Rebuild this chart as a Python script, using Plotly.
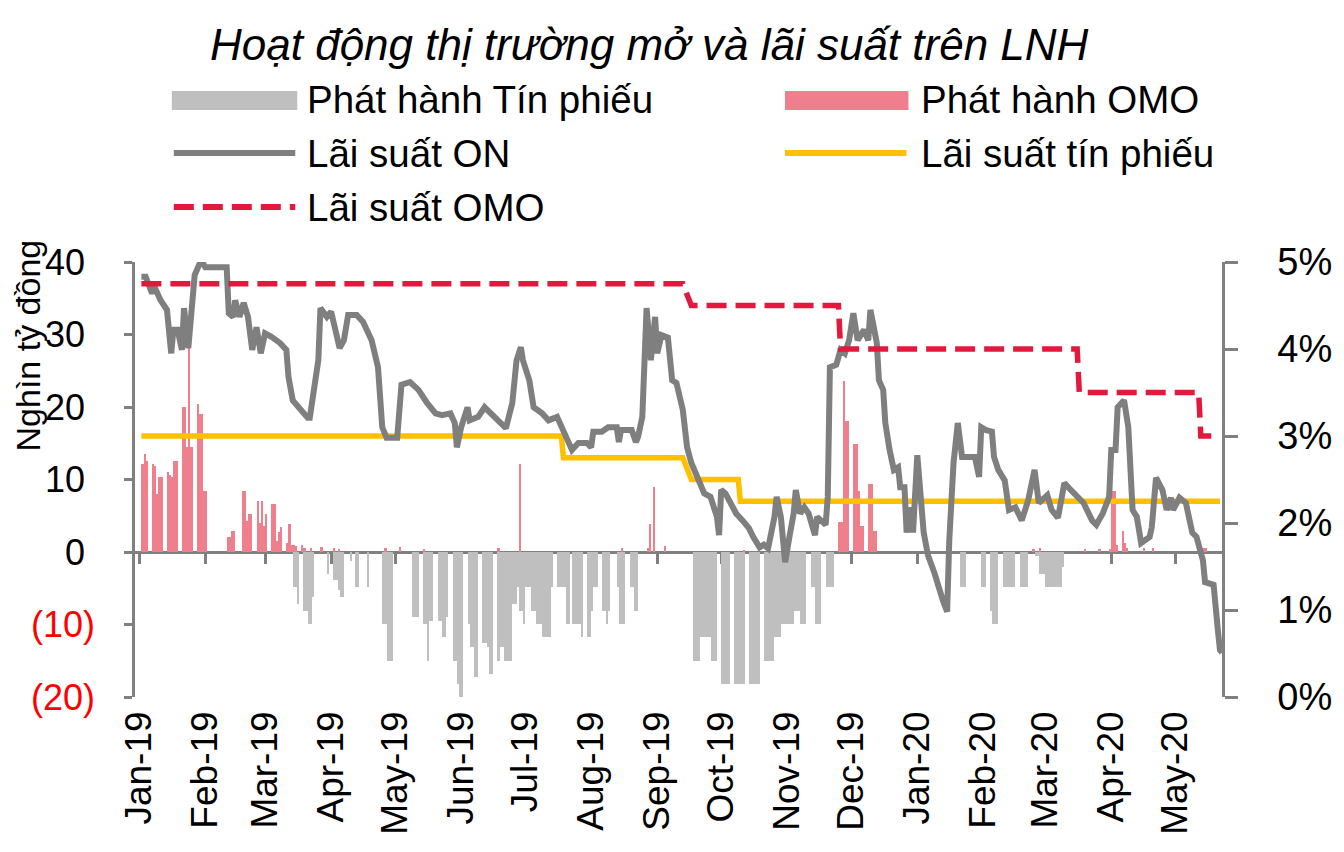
import plotly.graph_objects as go
import pandas as pd

# ---------------- DATA ----------------
MONTH_TICKS = ["2019-01-01", "2019-02-01", "2019-03-01", "2019-04-01", "2019-05-01", "2019-06-01",
               "2019-07-01", "2019-08-01", "2019-09-01", "2019-10-01", "2019-11-01", "2019-12-01",
               "2020-01-01", "2020-02-01", "2020-03-01", "2020-04-01", "2020-05-01"]
MONTH_LABELS = ["Jan-19", "Feb-19", "Mar-19", "Apr-19", "May-19", "Jun-19", "Jul-19", "Aug-19",
                "Sep-19", "Oct-19", "Nov-19", "Dec-19", "Jan-20", "Feb-20", "Mar-20", "Apr-20", "May-20"]

LEFT_TICKS = [-20, -10, 0, 10, 20, 30, 40]
LEFT_LABELS = ["(20)", "(10)", "0", "10", "20", "30", "40"]
RIGHT_TICKS = [0, 1, 2, 3, 4, 5]
RIGHT_LABELS = ["0%", "1%", "2%", "3%", "4%", "5%"]

# Overnight interbank rate (%)
ON_DATES = [
    "2019-01-02", "2019-01-04", "2019-01-07", "2019-01-08", "2019-01-11", "2019-01-14", "2019-01-16",
    "2019-01-17", "2019-01-19", "2019-01-21", "2019-01-22", "2019-01-24", "2019-01-27", "2019-01-30",
    "2019-02-01", "2019-02-11", "2019-02-12", "2019-02-14", "2019-02-15", "2019-02-17", "2019-02-19",
    "2019-02-21", "2019-02-23", "2019-02-25", "2019-02-27", "2019-03-01", "2019-03-04", "2019-03-08",
    "2019-03-11", "2019-03-12", "2019-03-14", "2019-03-18", "2019-03-21", "2019-03-22", "2019-03-26",
    "2019-03-27", "2019-03-30", "2019-04-01", "2019-04-05", "2019-04-07", "2019-04-09", "2019-04-13",
    "2019-04-16", "2019-04-20", "2019-04-23", "2019-04-25", "2019-04-27", "2019-05-02", "2019-05-03",
    "2019-05-04", "2019-05-08", "2019-05-12", "2019-05-16", "2019-05-20", "2019-05-23", "2019-05-27",
    "2019-05-29", "2019-05-30", "2019-06-01", "2019-06-04", "2019-06-05", "2019-06-09", "2019-06-12",
    "2019-06-15", "2019-06-19", "2019-06-22", "2019-06-25", "2019-06-27", "2019-06-29", "2019-06-30",
    "2019-07-03", "2019-07-05", "2019-07-09", "2019-07-12", "2019-07-16", "2019-07-18", "2019-07-21",
    "2019-07-23", "2019-07-26", "2019-07-30", "2019-08-01", "2019-08-02", "2019-08-06", "2019-08-09",
    "2019-08-13", "2019-08-14", "2019-08-15", "2019-08-20", "2019-08-22", "2019-08-23", "2019-08-25",
    "2019-08-26", "2019-08-27", "2019-08-29", "2019-08-31", "2019-09-01", "2019-09-03", "2019-09-06",
    "2019-09-08", "2019-09-10", "2019-09-13", "2019-09-15", "2019-09-17", "2019-09-21", "2019-09-23",
    "2019-09-26", "2019-09-29", "2019-09-30", "2019-10-01", "2019-10-03", "2019-10-06", "2019-10-08",
    "2019-10-11", "2019-10-14", "2019-10-16", "2019-10-19", "2019-10-21", "2019-10-23", "2019-10-26",
    "2019-10-27", "2019-10-29", "2019-10-31", "2019-11-02", "2019-11-04", "2019-11-05", "2019-11-07",
    "2019-11-09", "2019-11-11", "2019-11-14", "2019-11-15", "2019-11-19", "2019-11-20", "2019-11-21",
    "2019-11-24", "2019-11-26", "2019-11-28", "2019-11-30", "2019-12-02", "2019-12-04", "2019-12-07",
    "2019-12-09", "2019-12-10", "2019-12-13", "2019-12-14", "2019-12-16", "2019-12-17", "2019-12-19",
    "2019-12-21", "2019-12-23", "2019-12-24", "2019-12-26", "2019-12-27", "2019-12-29", "2019-12-30",
    "2020-01-01", "2020-01-03", "2020-01-04", "2020-01-06", "2020-01-08", "2020-01-09", "2020-01-13",
    "2020-01-15", "2020-01-16", "2020-01-17", "2020-01-18", "2020-01-20", "2020-01-22", "2020-01-28",
    "2020-01-30", "2020-01-31", "2020-02-02", "2020-02-05", "2020-02-06", "2020-02-08", "2020-02-11",
    "2020-02-13", "2020-02-16", "2020-02-19", "2020-02-22", "2020-02-25", "2020-02-27", "2020-03-02",
    "2020-03-04", "2020-03-07", "2020-03-10", "2020-03-13", "2020-03-16", "2020-03-19", "2020-03-23",
    "2020-03-25", "2020-03-28", "2020-03-31", "2020-04-01", "2020-04-03", "2020-04-04", "2020-04-07",
    "2020-04-09", "2020-04-11", "2020-04-13", "2020-04-15", "2020-04-19", "2020-04-20", "2020-04-22",
    "2020-04-25", "2020-04-27", "2020-04-29", "2020-04-30", "2020-05-03", "2020-05-06", "2020-05-09",
    "2020-05-11", "2020-05-14", "2020-05-15", "2020-05-19", "2020-05-21", "2020-05-22", "2020-05-23"]
ON_RATE = [
    4.83, 4.83, 4.64, 4.72, 4.56, 4.45, 3.95,
    4.22, 4.22, 3.99, 4.47, 4.01, 4.85, 5.02,
    4.94, 4.94, 4.41, 4.37, 4.56, 4.37, 4.53,
    4.37, 3.99, 4.25, 3.95, 4.18, 4.14, 4.07,
    3.99, 3.68, 3.41, 3.30, 3.21, 3.21, 3.87,
    4.47, 4.37, 4.43, 4.01, 4.10, 4.39, 4.39,
    4.31, 4.10, 3.79, 3.10, 2.98, 2.98, 3.41,
    3.59, 3.62, 3.53, 3.38, 3.26, 3.24, 3.26,
    3.15, 2.87, 3.10, 3.33, 3.18, 3.22, 3.33,
    3.26, 3.18, 3.09, 3.38, 3.87, 4.02, 3.87,
    3.64, 3.33, 3.26, 3.18, 3.22, 3.10, 2.95,
    2.84, 2.92, 2.92, 2.87, 3.05, 3.05, 3.10,
    3.10, 2.93, 3.07, 3.07, 2.93, 2.99, 3.22,
    3.79, 4.47, 3.87, 4.37, 3.95, 4.16, 4.13,
    3.64, 3.61, 3.30, 2.87, 2.69, 2.46, 2.34,
    2.30, 2.07, 1.86, 2.38, 2.34, 2.18, 2.11,
    2.03, 1.94, 1.84, 1.72, 1.75, 1.71, 2.07,
    2.30, 2.07, 1.55, 1.84, 2.11, 2.38, 2.11,
    2.18, 2.11, 1.86, 2.07, 1.98, 2.30, 3.79,
    3.82, 3.99, 3.95, 4.10, 4.41, 4.10, 4.22,
    4.10, 4.45, 4.07, 3.64, 3.53, 3.15, 2.84,
    2.61, 2.64, 2.41, 2.41, 1.89, 2.18, 1.89,
    2.78, 2.07, 1.89, 1.63, 1.46, 1.43, 1.11,
    0.98, 1.80, 2.46, 2.69, 3.15, 2.76, 2.76,
    2.53, 3.10, 3.07, 3.05, 2.76, 2.61, 2.49,
    2.15, 2.18, 2.03, 2.26, 2.61, 2.23, 2.32,
    2.15, 2.06, 2.46, 2.38, 2.30, 2.23, 2.03,
    1.98, 2.11, 2.30, 2.84, 2.84, 3.33, 3.41,
    3.10, 2.15, 2.07, 1.77, 1.84, 1.95, 2.52,
    2.38, 2.15, 2.29, 2.15, 2.29, 2.23, 1.89,
    1.84, 1.57, 1.32, 1.29, 0.77, 0.54, 0.51]

# OMO rate (%)
OMO_RATE_DATES = ["2019-01-02", "2019-09-13", "2019-09-17", "2019-11-25", "2019-11-26",
                  "2020-03-16", "2020-03-17", "2020-05-12", "2020-05-13", "2020-05-22"]
OMO_RATE = [4.75, 4.75, 4.5, 4.5, 4.0, 4.0, 3.5, 3.5, 3.0, 3.0]

# T-bill (tín phiếu) rate (%)
TP_RATE_DATES = ["2019-01-02", "2019-07-18", "2019-07-19", "2019-09-13", "2019-09-17",
                 "2019-10-09", "2019-10-10", "2020-05-22"]
TP_RATE = [3.0, 3.0, 2.75, 2.75, 2.5, 2.5, 2.25, 2.25]

# OMO issuance (nghìn tỷ đồng), per business day
OMO_ISSUE_DATES = [
    "2019-01-02", "2019-01-03", "2019-01-04", "2019-01-07", "2019-01-08", "2019-01-09", "2019-01-10",
    "2019-01-11", "2019-01-14", "2019-01-15", "2019-01-16", "2019-01-17", "2019-01-18", "2019-01-21",
    "2019-01-22", "2019-01-23", "2019-01-24", "2019-01-25", "2019-01-28", "2019-01-29", "2019-01-30",
    "2019-01-31", "2019-02-01", "2019-02-11", "2019-02-12", "2019-02-13", "2019-02-14", "2019-02-18",
    "2019-02-19", "2019-02-20", "2019-02-21", "2019-02-22", "2019-02-25", "2019-02-26", "2019-02-27",
    "2019-02-28", "2019-03-01", "2019-03-04", "2019-03-05", "2019-03-06", "2019-03-07", "2019-03-08",
    "2019-03-11", "2019-03-12", "2019-03-13", "2019-03-14", "2019-03-15", "2019-03-18", "2019-03-19",
    "2019-03-22", "2019-03-27", "2019-04-02", "2019-04-04", "2019-04-26", "2019-05-03", "2019-05-14",
    "2019-06-18", "2019-06-28", "2019-08-15", "2019-08-27", "2019-08-28", "2019-08-30", "2019-09-04",
    "2019-10-11", "2019-11-25", "2019-11-26", "2019-11-27", "2019-11-28", "2019-11-29", "2019-12-02",
    "2019-12-03", "2019-12-04", "2019-12-05", "2019-12-06", "2019-12-09", "2019-12-10", "2019-12-11",
    "2019-12-12", "2020-02-24", "2020-02-27", "2020-03-19", "2020-03-26", "2020-03-31", "2020-04-01",
    "2020-04-02", "2020-04-03", "2020-04-06", "2020-04-07", "2020-04-08", "2020-04-16", "2020-04-20",
    "2020-05-13", "2020-05-14", "2020-05-15"]
OMO_ISSUE = [
    12.1, 13.5, 12.6, 12.2, 11.8, 8.0, 10.4,
    10.4, 11.1, 10.6, 10.3, 12.6, 12.6, 20.0,
    20.0, 14.5, 28.5, 14.5, 20.4, 19.0, 19.0,
    8.4, 8.4, 2.1, 2.1, 2.9, 2.9, 8.4,
    8.4, 4.3, 5.2, 5.2, 7.0, 4.0, 7.0,
    3.6, 5.2, 6.6, 6.6, 1.5, 2.7, 3.5,
    1.2, 3.9, 1.0, 1.0, 0.8, 1.0, 0.6,
    0.5, 0.7, 0.5, 0.4, 0.5, 0.7, 0.4,
    0.5, 12.1, 0.5, 0.5, 3.9, 9.0, 0.8,
    0.3, 4.1, 4.1, 23.6, 18.1, 18.1, 14.9,
    14.9, 8.4, 3.6, 3.6, 9.4, 9.4, 2.9,
    2.9, 0.4, 0.5, 0.4, 0.4, 0.4, 8.4,
    8.4, 1.0, 2.9, 1.3, 0.6, 0.5, 0.5,
    0.5, 0.5, 0.5]

# T-bill issuance (nghìn tỷ đồng, negative = absorbed), by block of days
TP_ISSUE_START = [
    "2019-03-14", "2019-03-16", "2019-03-19", "2019-03-21", "2019-03-23", "2019-03-30",
    "2019-04-02", "2019-04-04", "2019-04-05", "2019-04-10", "2019-04-12", "2019-04-18", "2019-04-25", "2019-04-27",
    "2019-05-09", "2019-05-14", "2019-05-16", "2019-05-17", "2019-05-21", "2019-05-23", "2019-05-25", "2019-05-28",
    "2019-05-30", "2019-05-31",
    "2019-06-04", "2019-06-05", "2019-06-07", "2019-06-11", "2019-06-13", "2019-06-14", "2019-06-18", "2019-06-19",
    "2019-06-21", "2019-06-25", "2019-06-27", "2019-06-28", "2019-06-30",
    "2019-07-01", "2019-07-04", "2019-07-06", "2019-07-09", "2019-07-13", "2019-07-16", "2019-07-20", "2019-07-23",
    "2019-07-27", "2019-07-30",
    "2019-08-01", "2019-08-02", "2019-08-06", "2019-08-08", "2019-08-09", "2019-08-13", "2019-08-14", "2019-08-19",
    "2019-08-21",
    "2019-09-18", "2019-09-21", "2019-09-26", "2019-10-01", "2019-10-07", "2019-10-14", "2019-10-21", "2019-10-26",
    "2019-10-29",
    "2019-11-04", "2019-11-07", "2019-11-12", "2019-11-14", "2019-11-19",
    "2020-01-21", "2020-01-31", "2020-02-04", "2020-02-05", "2020-02-10", "2020-02-18", "2020-02-25", "2020-02-27",
    "2020-03-01", "2020-03-09"]
TP_ISSUE_END = [
    "2019-03-16", "2019-03-17", "2019-03-21", "2019-03-23", "2019-03-24", "2019-03-31",
    "2019-04-04", "2019-04-05", "2019-04-07", "2019-04-11", "2019-04-14", "2019-04-19", "2019-04-27", "2019-04-30",
    "2019-05-12", "2019-05-16", "2019-05-17", "2019-05-19", "2019-05-23", "2019-05-25", "2019-05-26", "2019-05-30",
    "2019-05-31", "2019-06-02",
    "2019-06-05", "2019-06-07", "2019-06-09", "2019-06-13", "2019-06-14", "2019-06-16", "2019-06-19", "2019-06-21",
    "2019-06-25", "2019-06-27", "2019-06-28", "2019-06-30", "2019-07-01",
    "2019-07-04", "2019-07-06", "2019-07-09", "2019-07-13", "2019-07-14", "2019-07-20", "2019-07-22", "2019-07-27",
    "2019-07-28", "2019-08-01",
    "2019-08-02", "2019-08-04", "2019-08-08", "2019-08-09", "2019-08-10", "2019-08-14", "2019-08-17", "2019-08-21",
    "2019-08-23",
    "2019-09-21", "2019-09-26", "2019-09-29", "2019-10-05", "2019-10-12", "2019-10-19", "2019-10-26", "2019-10-29",
    "2019-11-04",
    "2019-11-07", "2019-11-10", "2019-11-14", "2019-11-17", "2019-11-23",
    "2020-01-24", "2020-02-02", "2020-02-05", "2020-02-08", "2020-02-16", "2020-02-22", "2020-02-27", "2020-03-01",
    "2020-03-09", "2020-03-10"]
TP_ISSUE = [
    -4.8, -7.2, -8.1, -9.9, -6.2, -3.0,
    -3.9, -5.3, -6.2, -1.2, -4.8, -4.8, -9.9, -15.0,
    -9.0, -9.9, -15.0, -9.5, -9.5, -11.7, -9.0, -15.0,
    -18.2, -20.0,
    -9.9, -13.1, -17.2, -12.6, -13.1, -16.8, -15.0, -13.1,
    -15.0, -7.2, -4.8, -8.1, -9.9,
    -4.8, -8.1, -9.9, -11.7, -4.8, -4.8, -9.9, -9.9,
    -11.7, -11.7,
    -8.1, -4.8, -8.1, -9.9, -8.1, -4.8, -9.9, -4.8,
    -8.1,
    -15.0, -11.7, -15.0, -18.2, -18.2, -18.2, -15.0, -11.7,
    -9.9,
    -8.1, -9.9, -4.8, -9.9, -4.8,
    -4.8, -4.8, -8.1, -9.9, -4.8, -4.8, -0.6, -3.0,
    -4.8, -2.1]

TITLE = "Hoạt động thị trường mở và lãi suất trên LNH"
Y_TITLE = "Nghìn tỷ đồng"
LEG_TP_ISSUE = "Phát hành Tín phiếu"
LEG_OMO_ISSUE = "Phát hành OMO"
LEG_ON = "Lãi suất ON"
LEG_TP_RATE = "Lãi suất tín phiếu"
LEG_OMO_RATE = "Lãi suất OMO"

# ---------------- STYLE ----------------
PAGE_W, PAGE_H = 1344, 852
BODY_OFF = 8                      # default page margin around the plot div
W, H = PAGE_W - BODY_OFF, PAGE_H - BODY_OFF
PL, PR, PT, PB = 135, 1228, 262, 697          # plot area in page pixels
X_RANGE = ["2018-12-30 00:00", "2020-05-23 10:00"]
FONT = "Liberation Sans, Arial, sans-serif"
AXIS_GRAY = "#808080"
BAR_GRAY = "#BFBFBF"
BAR_PINK = "#F07F8E"
ON_GRAY = "#7F7F7F"
YELLOW = "#FFC000"
RED = "#E2193C"
DASH = "20px,9px"
DAY_MS = 86400000


def fx(p):
    return (p - PL) / (PR - PL)


def fy(p):
    return (PB - p) / (PB - PT)


fig = go.Figure()

tp_w = [(pd.Timestamp(e) - pd.Timestamp(s)).total_seconds() * 1000
        for s, e in zip(TP_ISSUE_START, TP_ISSUE_END)]
fig.add_trace(go.Bar(x=TP_ISSUE_START, y=TP_ISSUE, width=tp_w, offset=0,
                     marker=dict(color=BAR_GRAY, line=dict(width=0)),
                     xaxis="x", yaxis="y", name=LEG_TP_ISSUE))
fig.add_trace(go.Bar(x=OMO_ISSUE_DATES, y=OMO_ISSUE, width=DAY_MS, offset=0,
                     marker=dict(color=BAR_PINK, line=dict(width=0)),
                     xaxis="x", yaxis="y", name=LEG_OMO_ISSUE))

fig.add_trace(go.Scatter(x=TP_RATE_DATES, y=TP_RATE, mode="lines",
                         line=dict(color=YELLOW, width=5.5), xaxis="x2", yaxis="y2", name=LEG_TP_RATE))
fig.add_trace(go.Scatter(x=ON_DATES, y=ON_RATE, mode="lines",
                         line=dict(color=ON_GRAY, width=6), xaxis="x2", yaxis="y2", name=LEG_ON))
fig.add_trace(go.Scatter(x=OMO_RATE_DATES, y=OMO_RATE, mode="lines",
                         line=dict(color=RED, width=5.5, dash=DASH), xaxis="x2", yaxis="y2", name=LEG_OMO_RATE))

left_text = []
for v, lab in zip(LEFT_TICKS, LEFT_LABELS):
    if v < 0:
        left_text.append('<span style="color:#FF0000">' + lab + '</span>')
    else:
        left_text.append(lab + "\u00a0")

fig.update_layout(
    width=W, height=H,
    margin=dict(l=PL - BODY_OFF, r=PAGE_W - PR, t=PT - BODY_OFF, b=PAGE_H - PB, pad=0),
    plot_bgcolor="white", paper_bgcolor="white",
    showlegend=False, barmode="overlay", bargap=0,
    font=dict(family=FONT, color="black", size=36),
    xaxis=dict(type="date", range=X_RANGE, tickvals=MONTH_TICKS, ticktext=MONTH_LABELS,
               tickangle=-90, ticks="", showline=False, showgrid=False, zeroline=False,
               tickfont=dict(size=37, color="black"), ticklabelstandoff=6),
    xaxis2=dict(type="date", range=X_RANGE, overlaying="x", anchor="free", position=1 / 3,
                tickvals=MONTH_TICKS, ticks="outside", ticklen=10, tickwidth=2.5, tickcolor=AXIS_GRAY,
                showline=True, linecolor=AXIS_GRAY, linewidth=2.5, showticklabels=False,
                showgrid=False, zeroline=False, layer="below traces"),
    yaxis=dict(range=[-20, 40], tickvals=LEFT_TICKS, ticktext=left_text, ticks="outside",
               ticklen=8, tickwidth=2.5, tickcolor=AXIS_GRAY, showline=True, linecolor=AXIS_GRAY,
               linewidth=2.5, showgrid=False, zeroline=False,
               tickfont=dict(size=36, color="black"), ticklabelstandoff=22),
    yaxis2=dict(range=[0, 5], overlaying="y", side="right", anchor="free", position=1,
                tickvals=RIGHT_TICKS, ticktext=RIGHT_LABELS, ticks="outside", ticklen=13,
                tickwidth=2.5, tickcolor=AXIS_GRAY, showline=True, linecolor=AXIS_GRAY,
                linewidth=2.5, showgrid=False, zeroline=False,
                tickfont=dict(size=38, color="black"), ticklabelstandoff=32),
)

# Title and y-axis title
annotations = [
    dict(text="<i>" + TITLE + "</i>", x=fx(652), y=fy(45), xref="paper", yref="paper",
         xanchor="center", yanchor="middle", showarrow=False, font=dict(size=44, family=FONT)),
    dict(text=Y_TITLE, x=fx(28), y=fy(345), xref="paper", yref="paper", textangle=-90,
         xanchor="center", yanchor="middle", showarrow=False, borderpad=0,
         font=dict(size=34, family=FONT)),
]

# Custom legend
LEG_SIZE = 38.5
legend_texts = [(LEG_TP_ISSUE, 306, 100), (LEG_OMO_ISSUE, 923, 100), (LEG_ON, 306, 153),
                (LEG_TP_RATE, 923, 153), (LEG_OMO_RATE, 306, 207)]
for t, px, py in legend_texts:
    annotations.append(dict(text=t, x=fx(px), y=fy(py), xref="paper", yref="paper",
                            xanchor="left", yanchor="middle", showarrow=False,
                            font=dict(size=LEG_SIZE, family=FONT)))

shapes = [
    dict(type="rect", xref="paper", yref="paper", x0=fx(172), x1=fx(298), y0=fy(91), y1=fy(110),
         fillcolor=BAR_GRAY, line=dict(width=0)),
    dict(type="rect", xref="paper", yref="paper", x0=fx(788), x1=fx(912), y0=fy(91), y1=fy(110),
         fillcolor=BAR_PINK, line=dict(width=0)),
    dict(type="line", xref="paper", yref="paper", x0=fx(174), x1=fx(296), y0=fy(153), y1=fy(153),
         line=dict(color=ON_GRAY, width=6)),
    dict(type="line", xref="paper", yref="paper", x0=fx(788), x1=fx(910), y0=fy(153), y1=fy(153),
         line=dict(color=YELLOW, width=6)),
    dict(type="line", xref="paper", yref="paper", x0=fx(174), x1=fx(296), y0=fy(207), y1=fy(207),
         line=dict(color=RED, width=6, dash=DASH)),
]

fig.update_layout(annotations=annotations, shapes=shapes)
fig.write_html("out.html")
